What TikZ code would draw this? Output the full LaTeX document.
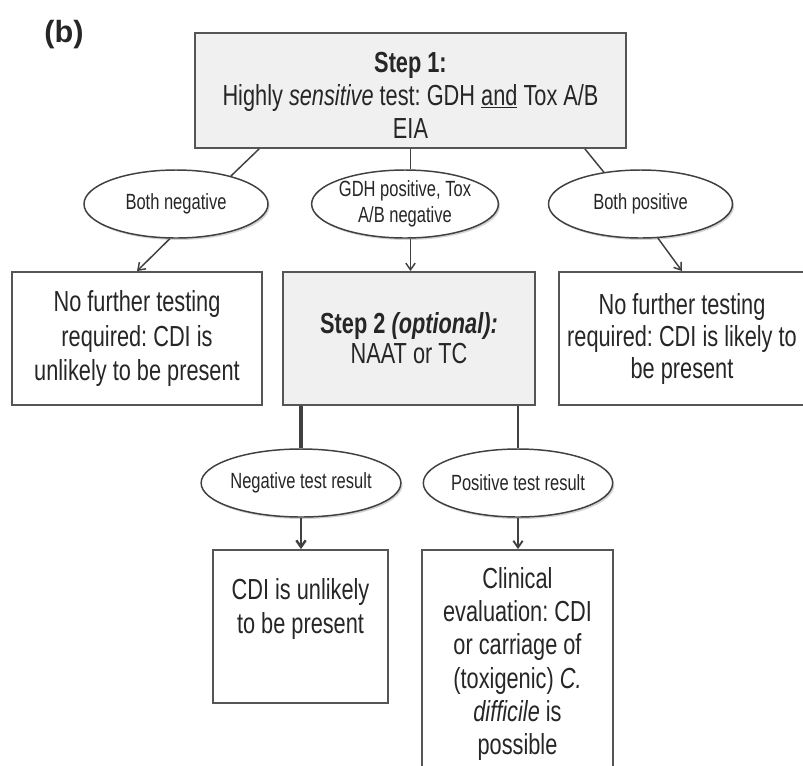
\documentclass[tikz,border=0pt]{standalone}
\usepackage{fontspec}
\setmainfont{Liberation Sans}[FakeStretch=0.75]
\newfontfamily\plainsans{Liberation Sans}
\usetikzlibrary{shapes.geometric,arrows.meta,calc,shadows}
\definecolor{boxfill}{HTML}{F0F0F0}
\definecolor{edge}{HTML}{555555}
\definecolor{ink}{HTML}{262626}
\definecolor{wire}{HTML}{404040}
\newcommand\bxfont{\fontsize{21.75pt}{26pt}\selectfont}
\newcommand\elfont{\fontsize{16.5pt}{19.5pt}\selectfont}
\frenchspacing
\begin{document}
\begin{tikzpicture}[x=0.75pt,y=-0.75pt,
 stepbox/.style={draw=edge,line width=1.4pt,fill=boxfill,inner sep=0pt,align=center,text=ink,font=\bxfont},
 outbox/.style={draw=edge,line width=1.4pt,fill=white,inner sep=0pt,align=center,text=ink,font=\bxfont},
 boxtext/.style={inner sep=0pt,align=center,text=ink},
 oval/.style={ellipse,draw=wire,line width=1.1pt,fill=white,inner sep=0pt,minimum width=138pt,minimum height=51pt,align=center,text=ink,font=\elfont,drop shadow={opacity=0.35,shadow xshift=1.2pt,shadow yshift=-1.5pt}},
 link/.style={draw=wire,line width=1.1pt},
 arr/.style={link,-{Straight Barb[length=5pt,width=7pt]}},
]
\useasboundingbox (0,0) rectangle (803,765);
\clip (0,0) rectangle (803,765);
\fill[white] (0,0) rectangle (803,765);

\node[font=\plainsans\bfseries\fontsize{23pt}{27pt}\selectfont,text=ink] (lab) at (64,35) {(b)};

% Step 1
\node[stepbox,minimum width=323.25pt,minimum height=86.25pt] (s1) at (410.5,90.5) {};
\node[boxtext,font=\fontsize{21.75pt}{24.75pt}\selectfont] (s1t) at (410.5,95) {\textbf{Step 1:}\\Highly \textit{sensitive} test: GDH \underline{and} Tox A/B\\EIA};

% first ellipses
\node[oval] (e1) at (176,204) {Both negative};
\node[oval] (e2) at (405,204) {GDH positive, Tox\\A/B negative};
\node[oval] (e3) at (640.5,204) {Both positive};

% second row boxes
\node[outbox,minimum width=187.5pt,minimum height=99.75pt] (r1) at (137,338.5) {No further testing\\required: CDI is\\unlikely to be present};
\node[stepbox,minimum width=189pt,minimum height=99.75pt,font=\fontsize{21.75pt}{22.5pt}\selectfont] (s2) at (409,338.5) {\textbf{Step 2 \textit{(optional):}}\\NAAT or TC};
\node[outbox,minimum width=184.5pt,minimum height=99.75pt,font=\fontsize{21.75pt}{24pt}\selectfont] (r3) at (682,338.5) {No further testing\\required: CDI is likely to\\be present};

% second ellipses
\node[oval] (e4) at (301,483) {Negative test result};
\node[oval] (e5) at (518,483) {Positive test result};

% last boxes
\node[outbox,minimum width=131.25pt,minimum height=114.75pt] (r4) at (300.5,626.5) {};
\node[boxtext,font=\fontsize{21.75pt}{25.5pt}\selectfont] (r4t) at (300.5,609) {CDI is unlikely\\to be present};
\node[outbox,minimum width=143.25pt,minimum height=187.5pt] (r5) at (517.5,675) {};
\node[boxtext,font=\fontsize{21.75pt}{25pt}\selectfont] (r5t) at (517.5,664) {Clinical\\evaluation: CDI\\or carriage of\\(toxigenic) \textit{C.}\\\textit{difficile} is\\possible};

% connectors
\draw[link] ($(s1.south west)+(65,0)$) -- (e1.27);
\draw[link] (s1.south) -- (s1.south |- e2.north);
\draw[link] ($(s1.south east)+(-42,0)$) -- (e3.139);
\draw[arr] (e1.260) -- (r1.north);
\draw[arr] (e2.south -| s1.south) -- (s2.north -| s1.south);
\draw[arr] (e3.297) -- (r3.north);
\draw[link,line width=2.6pt] (s2.south -| e4.north) -- (e4.north);
\draw[link,line width=1.6pt] (s2.south -| e5.north) -- (e5.north);
\draw[arr,line width=1.8pt] (e4.south) -- (r4.north -| e4.south);
\draw[arr,line width=1.4pt] (e5.south) -- (r5.north -| e5.south);
\end{tikzpicture}
\end{document}
